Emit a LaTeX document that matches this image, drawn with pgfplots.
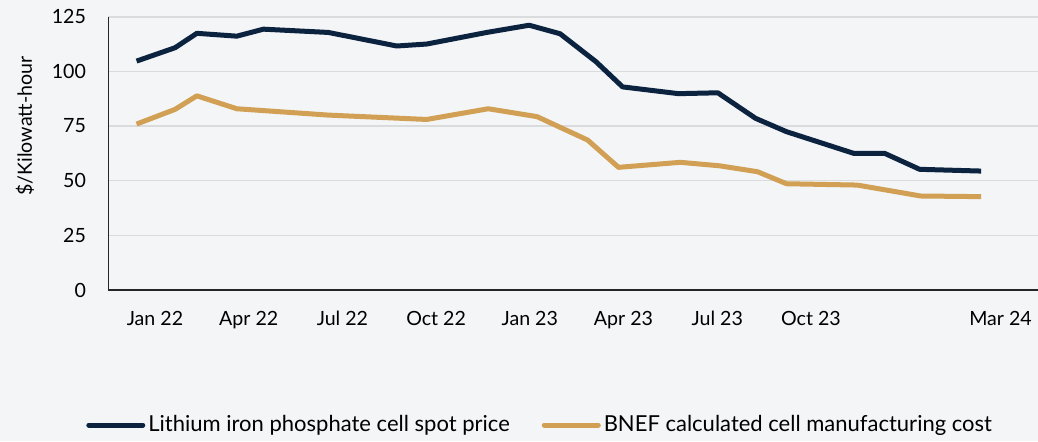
\documentclass[border=0pt]{standalone}
\usepackage{fontspec}
\setmainfont{Lato}
\usepackage{pgfplots}
\pgfplotsset{compat=1.18}

\definecolor{navy}{HTML}{0C2340}
\definecolor{gold}{HTML}{D1A054}
\definecolor{bgc}{HTML}{F3F5F7}
\definecolor{gridc}{HTML}{DADBDD}

\newcommand{\tickfont}{\fontsize{9.8}{11}\selectfont}
\newcommand{\legfont}{\fontsize{11}{13}\selectfont}

% x = months since Jan 22
\pgfplotstableread{
x y
-0.59 104.7
0.64 110.8
1.34 117.4
2.62 116.1
3.47 119.3
5.55 117.8
7.74 111.6
8.70 112.5
10.62 117.8
11.98 121.1
12.97 117.2
14.12 104.4
14.97 92.9
16.76 89.8
18.02 90.2
19.23 78.5
20.22 72.4
22.37 62.5
23.36 62.5
24.48 55.2
26.45 54.4
}\spotprice

\pgfplotstableread{
x y
-0.59 75.9
0.64 82.6
1.34 88.8
2.62 82.9
5.55 80.0
8.70 78.0
10.67 82.9
12.23 79.3
13.85 68.6
14.84 56.1
16.82 58.4
18.08 56.8
19.29 54.1
20.22 48.6
22.48 48.0
23.46 45.6
24.51 43.0
26.45 42.7
}\mfgcost

\begin{document}
\begin{tikzpicture}
\fill[bgc] (-54.15pt,-75.5pt) rectangle (464.85pt,145pt);
\path[use as bounding box] (-54.15pt,-75.5pt) rectangle (464.85pt,145pt);
\begin{axis}[
    scale only axis,
    width=464.85pt, height=136.65pt,
    xmin=-1.495, xmax=28.27,
    ymin=0, ymax=125,
    axis x line*=bottom, axis y line*=left,
    axis line style={-, black!85, line width=0.8pt},
    major tick length=0pt,
    xtick={0,3,6,9,12,15,18,21,27.07},
    xticklabels={Jan 22,Apr 22,Jul 22,Oct 22,Jan 23,Apr 23,Jul 23,Oct 23,Mar 24},
    ytick={0,25,50,75,100,125},
    ymajorgrids,
    grid style={gridc, line width=0.8pt},
    tick label style={font=\tickfont, black},
    /pgf/number format/assume math mode=true,
    xticklabel style={anchor=north, inner sep=0pt, yshift=-10.5pt},
    yticklabel style={anchor=east, inner sep=0pt, xshift=-11pt},
    ylabel={\$/Kilowatt-hour},
    ylabel style={font=\tickfont, at={(axis description cs:-0.0896,0.60)}, anchor=center},
    legend style={at={(0.465,-0.494)}, anchor=center, draw=none, fill=none,
        font=\legfont, legend columns=2,
        nodes={inner sep=1.5pt},
        /tikz/every even column/.append style={column sep=14.5pt}},
    legend cell align=left,
    legend image code/.code={\draw[#1, line cap=round] (0pt,0pt) -- (27pt,0pt);},
]
\addplot[navy, line width=2.5pt, line join=round] table[x=x, y=y] {\spotprice};
\addplot[gold, line width=2.5pt, line join=round] table[x=x, y=y] {\mfgcost};
\legend{Lithium iron phosphate cell spot price, BNEF calculated cell manufacturing cost}
\end{axis}
\end{tikzpicture}
\end{document}
